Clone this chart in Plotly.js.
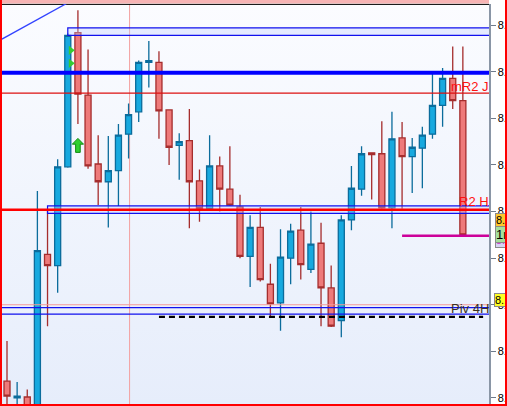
<!DOCTYPE html>
<html>
<head>
<meta charset="utf-8">
<script src="https://cdn.plot.ly/plotly-3.0.1.min.js"></script>
<style>
html,body{margin:0;padding:0;background:#fff;}
#wrap{position:relative;width:507px;height:406px;overflow:hidden;}
#chart{width:507px;height:406px;}
#frame{position:absolute;left:0;top:0;width:507px;height:406px;box-sizing:border-box;
  border-left:2px solid #ff0000;border-right:2px solid #ff0000;border-bottom:2px solid #ff0000;pointer-events:none;}
</style>
</head>
<body>
<div id="wrap"><div id="chart"></div><div id="frame"></div></div>
<script>
// ---- data (bar index, OHLC prices) ----
const bars = [0,1,2,3,4,5,6,7,8,9,10,11,12,13,14,15,16,17,18,19,20,21,22,23,24,25,26,27,28,29,30,31,32,33,34,35,36,37,38,39,40,41,42,43,44,45];
const openP = [8.1218,8.1200,8.1201,8.1155,8.1354,8.1342,8.1448,8.1592,8.1525,8.1451,
  8.1432,8.1444,8.1483,8.1507,8.1560,8.1560,8.1509,8.1471,8.1476,8.1433,
  8.1403,8.1449,8.1424,8.1405,8.1352,8.1383,8.1322,8.1302,8.1350,8.1380,
  8.1338,8.1366,8.1318,8.1283,8.1391,8.1424,8.1463,8.1462,8.1404,8.1479,
  8.1459,8.1468,8.1483,8.1514,8.1543,8.1519];
const highP = [8.1261,8.1217,8.1209,8.1422,8.1401,8.1456,8.1591,8.1616,8.1574,8.1482,
  8.1481,8.1494,8.1516,8.1562,8.1583,8.1572,8.1509,8.1484,8.1510,8.1445,
  8.1482,8.1459,8.1470,8.1418,8.1396,8.1405,8.1344,8.1381,8.1387,8.1405,
  8.1400,8.1388,8.1342,8.1396,8.1449,8.1470,8.1463,8.1497,8.1507,8.1496,
  8.1479,8.1491,8.1549,8.1554,8.1577,8.1577];
const lowP = [8.1187,8.1187,8.1182,8.1150,8.1277,8.1313,8.1447,8.1494,8.1446,8.1407,
  8.1383,8.1406,8.1457,8.1496,8.1533,8.1478,8.1450,8.1434,8.1382,8.1389,
  8.1402,8.1400,8.1406,8.1350,8.1319,8.1325,8.1287,8.1272,8.1322,8.1327,
  8.1334,8.1277,8.1276,8.1265,8.1380,8.1417,8.1413,8.1403,8.1382,8.1403,
  8.1420,8.1425,8.1478,8.1491,8.1510,8.1374];
const closeP = [8.1202,8.1202,8.1187,8.1358,8.1342,8.1448,8.1589,8.1526,8.1449,8.1432,
  8.1444,8.1482,8.1504,8.1560,8.1562,8.1508,8.1469,8.1475,8.1432,8.1403,
  8.1449,8.1424,8.1407,8.1352,8.1383,8.1327,8.1301,8.1351,8.1379,8.1343,
  8.1365,8.1318,8.1277,8.1391,8.1425,8.1462,8.1461,8.1404,8.1478,8.1459,
  8.1469,8.1482,8.1514,8.1543,8.1519,8.1375];

// y-axis ticks
const tickVals = [8.1200,8.1250,8.1300,8.1350,8.1400,8.1450,8.1500,8.1550,8.1600];

// horizontal levels
const levelNames  = ['blueLevel','mR2 J','R2 H','pinkLevel','pivBlue1','Piv 4H'];
const levelPrices = [8.1549, 8.1527, 8.1402, 8.1300, 8.1297, 8.1290];
// zones (start bar, low, high)
const zoneStart = [6, 4];
const zoneLow   = [8.1589, 8.1398];
const zoneHigh  = [8.1597, 8.1406];
// partial levels
const dashedLevel = {from: 15, to: 47, price: 8.1287};
const magentaLevel = {from: 39, price: 8.1374};
// trend line (bar, price)
const trendX = [-0.5, 10];
const trendY = [8.1585, 8.1648];
// vertical separator bar
const sepBar = 12.1;
// signals
const upArrowX = [7];
const upArrowY = [8.1471];
const entryX = [6.3, 6.3];
const entryY = [8.1573, 8.1559];
// right-side price boxes
const boxPrices = [8.1391, 8.1370, 8.1375, 8.1305];
const boxTexts  = ['8.1391', '8.1370', '1m', '8.1305'];

const XMIN = -0.494, XMAX = 47.58, YMIN = 8.11935, YMAX = 8.16227;
const FONT = 'Liberation Sans, Arial, sans-serif';

const traces = [
  {
    type: 'candlestick', x: bars, open: openP, high: highP, low: lowP, close: closeP,
    increasing: {line: {color: '#0b6c9c', width: 1.3}, fillcolor: '#17a9df'},
    decreasing: {line: {color: '#a52d2d', width: 1.3}, fillcolor: '#ee7a7a'},
    whiskerwidth: 0, hoverinfo: 'none', showlegend: false
  },
  {
    type: 'scatter', mode: 'markers', x: entryX, y: entryY,
    marker: {symbol: 'triangle-right', size: 8, color: '#33cc33', line: {width: 0}},
    hoverinfo: 'none', showlegend: false, cliponaxis: true
  }
];

const shapes = [];
// pink top band & black top line
shapes.push({type:'rect', xref:'paper', yref:'paper', x0:0, x1:1, y0:1.0012, y1:1.011, fillcolor:'#f7b4b4', line:{width:0}, layer:'above'});
shapes.push({type:'line', xref:'paper', yref:'paper', x0:0, x1:1, y0:0.999, y1:0.999, line:{color:'#000', width:1}});
// vertical separator
shapes.push({type:'line', xref:'x', yref:'paper', x0:sepBar, x1:sepBar, y0:0, y1:1, line:{color:'#f2a0a0', width:1}, layer:'below'});
// zones
for (let i = 0; i < zoneStart.length; i++) {
  shapes.push({type:'rect', xref:'x', yref:'y', x0:zoneStart[i], x1:XMAX+2, y0:zoneLow[i], y1:zoneHigh[i],
    fillcolor:'rgba(190,205,255,0.35)', line:{color:'#1111ee', width:1.2}, layer:'above'});
}
// trend line
shapes.push({type:'line', xref:'x', yref:'y', x0:trendX[0], x1:trendX[1], y0:trendY[0], y1:trendY[1], line:{color:'#3344ff', width:1.3}});
// levels
const levelStyles = [
  {color:'#0000ff', width:4},
  {color:'#dd1111', width:1.2},
  {color:'#ff0000', width:2.6},
  {color:'#f39a9a', width:1.2},
  {color:'#1111ee', width:1.2},
  {color:'#1111ee', width:1.2}
];
for (let i = 0; i < levelPrices.length; i++) {
  shapes.push({type:'line', xref:'x', yref:'y', x0:XMIN-1, x1:XMAX+2, y0:levelPrices[i], y1:levelPrices[i], line:levelStyles[i], layer:'above'});
}
shapes.push({type:'line', xref:'x', yref:'y', x0:dashedLevel.from, x1:dashedLevel.to, y0:dashedLevel.price, y1:dashedLevel.price,
  line:{color:'#000', width:2.2, dash:'6px,4px'}, layer:'above'});
shapes.push({type:'line', xref:'x', yref:'y', x0:magentaLevel.from, x1:XMAX+2, y0:magentaLevel.price, y1:magentaLevel.price,
  line:{color:'#cc0099', width:2.4}, layer:'above'});
// up arrow signal
for (let i = 0; i < upArrowX.length; i++) {
  shapes.push({type:'path', xref:'x', yref:'y', xsizemode:'pixel', ysizemode:'pixel', xanchor:upArrowX[i], yanchor:upArrowY[i],
    path:'M0,7 L5.6,1.2 L2.3,1.2 L2.3,-7 L-2.3,-7 L-2.3,1.2 L-5.6,1.2 Z',
    fillcolor:'#2fd02f', line:{color:'#118a11', width:1}, layer:'above'});
}

const annotations = [
  {xref:'paper', yref:'y', x:1, y:levelPrices[1], xanchor:'right', yanchor:'bottom', yshift:-3, xshift:2, showarrow:false,
   text:'mR2 J', font:{family:FONT, size:13, color:'#ff1111'}},
  {xref:'paper', yref:'y', x:1, y:levelPrices[2], xanchor:'right', yanchor:'bottom', yshift:-1, xshift:2, showarrow:false,
   text:'R2 H', font:{family:FONT, size:13, color:'#ff1111'}},
  {xref:'paper', yref:'y', x:1, y:levelPrices[5], xanchor:'right', yanchor:'bottom', yshift:-4, xshift:2, showarrow:false,
   text:'Piv 4H', font:{family:FONT, size:13, color:'#3a3020'}}
];
const boxStyles = [
  {bg:'#ffc72c', h:12, size:11, color:'#000', x:495},
  {bg:'#d6d4f2', h:14, size:11, color:'#cc33cc', x:495},
  {bg:'#a6e09c', h:15, size:13, color:'#000', x:495},
  {bg:'#ffff22', h:12, size:11, color:'#000', x:494}
];
for (let i = 0; i < boxPrices.length; i++) {
  annotations.push({xref:'paper', yref:'y', x:(boxStyles[i].x-2)/487, y:boxPrices[i], xanchor:'left', yanchor:'middle', showarrow:false,
    text:boxTexts[i], align:'left', height:boxStyles[i].h, width:40, bgcolor:boxStyles[i].bg, bordercolor:'#8a8a8a', borderwidth:1, borderpad:0,
    font:{family:FONT, size:boxStyles[i].size, color:boxStyles[i].color}});
}

const bgSvg = 'data:image/svg+xml;utf8,' + encodeURIComponent(
  '<svg xmlns="http://www.w3.org/2000/svg" width="10" height="100" viewBox="0 0 10 100" preserveAspectRatio="none">' +
  '<defs><linearGradient id="g" x1="0" y1="0" x2="0" y2="1"><stop offset="0" stop-color="#fbfcff"/><stop offset="1" stop-color="#e6edfb"/></linearGradient></defs>' +
  '<rect width="10" height="100" fill="url(#g)"/></svg>');

const layout = {
  width: 507, height: 406,
  margin: {l: 2, r: 18, t: 4, b: 2, pad: 0},
  paper_bgcolor: '#ffffff', plot_bgcolor: 'rgba(0,0,0,0)',
  showlegend: false, boxgap: 0.15,
  xaxis: {range: [XMIN, XMAX], visible: false, rangeslider: {visible: false}, fixedrange: true},
  yaxis: {range: [YMIN, YMAX], side: 'right', showgrid: false, zeroline: false,
    showline: true, linecolor: '#8a96a6', linewidth: 1.5,
    ticks: 'outside', ticklen: 5, tickwidth: 1, tickcolor: '#6f7b8b',
    tickvals: tickVals, tickformat: '.4f',
    tickfont: {family: FONT, size: 11, color: '#000'}, fixedrange: true},
  images: [{source: bgSvg, xref: 'paper', yref: 'paper', x: 0, y: 1, sizex: 1, sizey: 1, sizing: 'stretch', layer: 'below'}],
  shapes: shapes,
  annotations: annotations
};

Plotly.newPlot('chart', traces, layout, {staticPlot: true, displayModeBar: false});
</script>
</body>
</html>
